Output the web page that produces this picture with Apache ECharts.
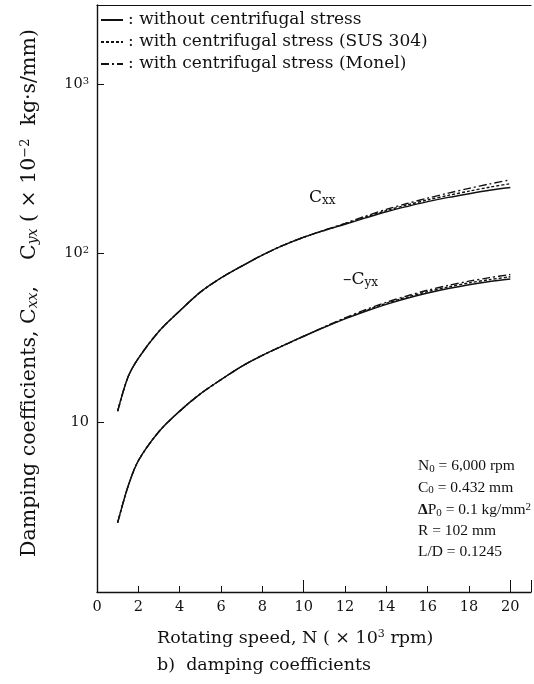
<!DOCTYPE html>
<html>
<head>
<meta charset="utf-8">
<script src="https://cdn.jsdelivr.net/npm/echarts@6/dist/echarts.min.js"></script>
<style>html,body{margin:0;padding:0;background:#fff;}#c{width:534px;height:684px;}</style>
</head>
<body>
<div id="c"></div>
<script>
// ---- data ----
const speed = [1, 1.5, 2, 3, 4, 5, 6, 7, 8, 9, 10, 11, 12, 13, 14, 15, 16, 17, 18, 19, 20];
const cxxWithout = [11.7, 18.6, 24, 34.7, 45.7, 59, 71.6, 84, 97.7, 111.4, 124.5, 136.5, 148.6, 162, 176, 189, 202, 214, 225, 236, 245];
const cxxSUS     = [11.7, 18.6, 24, 34.7, 45.7, 59, 71.6, 84, 97.7, 111.4, 124.5, 136.8, 149.5, 164, 179, 193, 207, 220, 233, 246, 258];
const cxxMonel   = [11.7, 18.6, 24, 34.7, 45.7, 59, 71.6, 84, 97.7, 111.4, 124.5, 137.2, 150.5, 166, 182, 197, 212, 227, 242, 257, 272];
const cyxWithout = [2.57, 4.2, 5.96, 8.87, 11.7, 14.8, 17.95, 21.5, 25, 28.5, 32.4, 36.6, 41, 45.5, 50, 54.3, 58.3, 62, 65.3, 68.2, 70.5];
const cyxSUS     = [2.57, 4.2, 5.96, 8.87, 11.7, 14.8, 17.95, 21.5, 25, 28.5, 32.4, 36.7, 41.3, 46, 50.7, 55.2, 59.4, 63.3, 66.9, 70, 72.7];
const cyxMonel   = [2.57, 4.2, 5.96, 8.87, 11.7, 14.8, 17.95, 21.5, 25, 28.5, 32.4, 36.8, 41.6, 46.5, 51.4, 56.1, 60.6, 64.7, 68.5, 71.9, 75];
const seriesNames = ['without centrifugal stress', 'with centrifugal stress (SUS 304)', 'with centrifugal stress (Monel)'];
const yTickValues = [10, 100, 1000];
const yTickLabels = ['10', '10{sup|2}', '10{sup|3}'];
const xTickValues = [0, 2, 4, 6, 8, 10, 12, 14, 16, 18, 20];
const paramLines = [
  'N{sub|0} = 6,000 rpm',
  'C{sub|0} = 0.432 mm',
  '{b|Δ}P{sub|0} = 0.1 kg/mm{sup|2}',
  'R = 102 mm',
  'L/D = 0.1245'
];

// ---- chart ----
const FONT = 'Liberation Serif';
const WIDE = 'DejaVu Serif';
const INK = '#111';
const chart = echarts.init(document.getElementById('c'), null, {renderer: 'canvas'});

function pairs(ys) { return speed.map((x, i) => [x, ys[i]]); }
function mk(name, ys, dash) {
  return {
    type: 'line', name: name, data: pairs(ys), xAxisIndex: 0, yAxisIndex: 0,
    smooth: 0.3, symbol: 'none', showSymbol: false,
    lineStyle: {color: INK, width: 1.4, type: dash},
    itemStyle: {color: INK},
    emphasis: {disabled: true}
  };
}
const yMin = 1, yMax = 2930;
const gridPos = {left: 97, right: 3, top: 5, bottom: 92};

const paramGraphics = paramLines.map((t, i) => ({
  type: 'text', left: 418, top: 458 + i * 21.6,
  style: {
    text: t, fontFamily: FONT, fontSize: 15.5, fill: INK,
    rich: {sub: {fontFamily: FONT, fontSize: 11, verticalAlign: 'bottom', padding: [6, 0, 0, 0]}, sup: {fontFamily: FONT, fontSize: 11, verticalAlign: 'top'}, b: {fontFamily: FONT, fontSize: 15.5, fontWeight: 'bold'}}
  }
}));

chart.setOption({
  animation: false,
  backgroundColor: '#fff',
  grid: [Object.assign({}, gridPos), Object.assign({}, gridPos)],
  xAxis: [
    {type: 'value', gridIndex: 0, min: 0, max: 21, interval: 2, position: 'bottom',
     axisLine: {show: true, lineStyle: {color: INK, width: 1.4}},
     axisTick: {show: true, inside: true, length: 6, lineStyle: {color: INK}},
     axisLabel: {show: true, margin: 8, fontFamily: WIDE, fontSize: 14.5, color: INK,
       formatter: v => (xTickValues.indexOf(v) >= 0 ? String(v) : '')},
     splitLine: {show: false}},
    {type: 'value', gridIndex: 0, min: 0, max: 21, position: 'top',
     axisLine: {show: true, lineStyle: {color: INK, width: 1.2}},
     axisTick: {show: false}, axisLabel: {show: false}, splitLine: {show: false}},
    {type: 'value', gridIndex: 1, min: 0, max: 21, interval: 10, position: 'bottom',
     axisLine: {show: false},
     axisTick: {show: true, inside: true, length: 12, lineStyle: {color: INK}},
     axisLabel: {show: false}, splitLine: {show: false}}
  ],
  yAxis: [
    {type: 'log', gridIndex: 0, logBase: 10, min: yMin, max: yMax,
     axisLine: {show: true, lineStyle: {color: INK, width: 1.4}},
     axisTick: {show: true, inside: true, length: 7, lineStyle: {color: INK}},
     axisLabel: {show: true, margin: 8, fontFamily: WIDE, fontSize: 14.5, color: INK,
       formatter: v => { for (let i = 0; i < yTickValues.length; i++) { if (Math.abs(v - yTickValues[i]) < 1e-6 * yTickValues[i]) return yTickLabels[i]; } return ''; },
       rich: {sup: {fontFamily: WIDE, fontSize: 10, verticalAlign: 'top', color: INK}}},
     splitLine: {show: false}},
    {type: 'log', gridIndex: 1, logBase: 10, min: yMin, max: yMax, show: false}
  ],
  legend: {
    data: seriesNames, orient: 'vertical', left: 100, top: 10, padding: 0,
    itemWidth: 22, itemHeight: 10, itemGap: 2,
    selectedMode: false,
    itemStyle: {opacity: 0},
    textStyle: {fontFamily: WIDE, fontSize: 17, color: INK, lineHeight: 20},
    formatter: n => ': ' + n
  },
  series: [
    mk(seriesNames[2], cxxMonel, [8, 3, 2, 3]),
    mk(seriesNames[1], cxxSUS, [3, 2]),
    mk(seriesNames[0], cxxWithout, 'solid'),
    mk(seriesNames[2], cyxMonel, [8, 3, 2, 3]),
    mk(seriesNames[1], cyxSUS, [3, 2]),
    mk(seriesNames[0], cyxWithout, 'solid')
  ],
  graphic: [
    {type: 'text', left: 309, top: 189,
     style: {text: 'C{s|xx}', fontFamily: WIDE, fontSize: 17, fill: INK,
       rich: {s: {fontFamily: WIDE, fontSize: 12, verticalAlign: 'bottom', padding: [6, 0, 0, 0]}}}},
    {type: 'text', left: 343, top: 271,
     style: {text: '–C{s|yx}', fontFamily: WIDE, fontSize: 17, fill: INK,
       rich: {s: {fontFamily: WIDE, fontSize: 12, verticalAlign: 'bottom', padding: [6, 0, 0, 0]}}}},
    {type: 'text', x: 30, y: 293, rotation: Math.PI / 2,
     style: {text: 'Damping coefficients, C{s|xx},    C{s|yx} ( × 10{p|−2}  kg·s/mm)', fontFamily: WIDE, fontSize: 20.5, fill: INK,
       align: 'center', verticalAlign: 'middle',
       rich: {s: {fontFamily: WIDE, fontSize: 14, fontStyle: 'italic', verticalAlign: 'bottom', padding: [7, 0, 0, 0]},
              p: {fontFamily: WIDE, fontSize: 13, verticalAlign: 'top'}}}},
    {type: 'text', left: 157, top: 629,
     style: {text: 'Rotating speed, N ( × 10{p|3} rpm)', fontFamily: WIDE, fontSize: 17.5, fill: INK,
       rich: {p: {fontFamily: WIDE, fontSize: 11, verticalAlign: 'top'}}}},
    {type: 'text', left: 157, top: 656,
     style: {text: 'b)  damping coefficients', fontFamily: WIDE, fontSize: 17.5, fill: INK}}
  ].concat(paramGraphics)
});
</script>
</body>
</html>
